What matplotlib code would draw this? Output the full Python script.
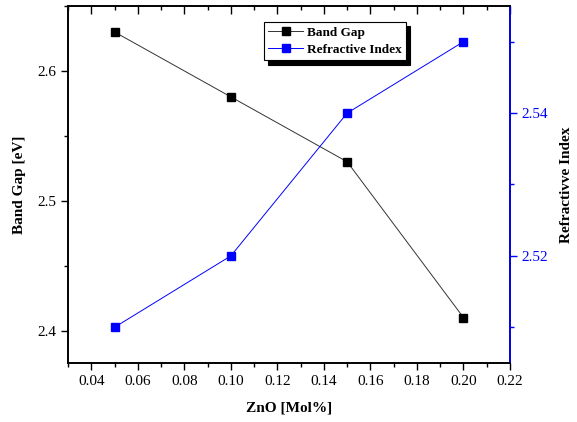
import numpy as np
import matplotlib.pyplot as plt
from matplotlib.ticker import MultipleLocator

# Datos
zno = [0.05, 0.10, 0.15, 0.20]
band_gap = [2.63, 2.58, 2.53, 2.41]
refr_index = [2.51, 2.52, 2.54, 2.55]
xticks = [0.04, 0.06, 0.08, 0.10, 0.12, 0.14, 0.16, 0.18, 0.20, 0.22]

plt.rcParams['font.family'] = ['Liberation Serif', 'DejaVu Serif']

fig = plt.figure(figsize=(5.77, 4.22), dpi=100)
ax = fig.add_axes([68 / 577, 1 - 363 / 422, (510 - 68) / 577, (363 - 6) / 422])

l1, = ax.plot(zno, band_gap, color='#333333', lw=0.7, marker='s', ms=6,
              mfc='black', mec='black', label='Band Gap')
ax.set_xlim(0.03, 0.22)
ax.set_ylim(2.375, 2.65)
ax.set_xticks(xticks)
ax.set_xticklabels([f'{v:.2f}' for v in xticks])
ax.xaxis.set_minor_locator(MultipleLocator(0.01))
ax.yaxis.set_major_locator(MultipleLocator(0.1))
ax.yaxis.set_minor_locator(MultipleLocator(0.05))
ax.tick_params(axis='both', which='major', direction='out', length=5, width=1, labelsize=11)
ax.tick_params(axis='both', which='minor', direction='out', length=3, width=1)
ax.set_xlabel('ZnO [Mol%]', fontsize=11, fontweight='bold', labelpad=10)
ax.set_ylabel('Band Gap [eV]', fontsize=11, fontweight='bold', labelpad=8)

ax2 = ax.twinx()
l2, = ax2.plot(zno, refr_index, color='blue', lw=0.7, marker='s', ms=6, label='Refractive Index')
ax2.set_ylim(2.505, 2.555)
ax2.set_yticks([2.52, 2.54])
ax2.set_yticklabels(['2.52', '2.54'])
ax2.yaxis.set_minor_locator(MultipleLocator(0.01))
ax2.tick_params(axis='y', which='major', direction='out', length=5, width=1, colors='blue', labelsize=11)
ax2.tick_params(axis='y', which='minor', direction='out', length=3, width=1, colors='blue')
ax2.set_ylabel('Refractivve Index', fontsize=11, fontweight='bold', labelpad=8)

# marcas superiores hacia dentro (eje x compartido del twin)
ax2.xaxis.set_visible(True)
ax2.tick_params(axis='x', which='both', top=True, bottom=False,
                labeltop=False, labelbottom=False, direction='in', width=1, color='black')
ax2.tick_params(axis='x', which='major', length=6)
ax2.tick_params(axis='x', which='minor', length=3)

for a in (ax, ax2):
    for s in a.spines.values():
        s.set_linewidth(1.2)
ax2.spines['right'].set_color('blue')

leg = ax.legend(handles=[l1, l2], loc='upper left', bbox_to_anchor=(0.443, 0.955),
                frameon=True, fancybox=False, borderaxespad=0,
                shadow={'ox': 3, 'oy': -3, 'color': 'black', 'alpha': 1},
                prop={'weight': 'bold', 'size': 9.5}, handlelength=2.6,
                borderpad=0.35, labelspacing=0.35, handletextpad=0.3)
leg.get_frame().set_edgecolor('black')
leg.get_frame().set_linewidth(0.8)

fig.savefig('out.png', dpi=100)
